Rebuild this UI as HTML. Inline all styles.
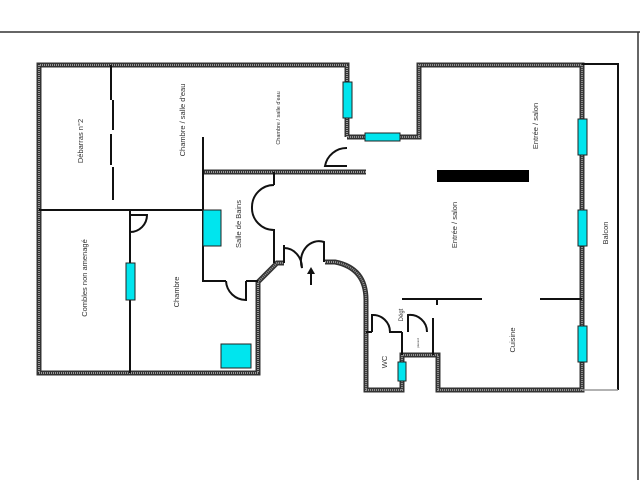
<!DOCTYPE html>
<html><head><meta charset="utf-8"><style>
html,body{margin:0;padding:0;background:#fff;width:640px;height:480px;overflow:hidden}
text{font-family:"Liberation Sans",sans-serif;fill:#333}
</style></head><body>
<svg width="640" height="480" viewBox="0 0 640 480" xmlns="http://www.w3.org/2000/svg">
<line x1="0" y1="32" x2="640" y2="32" stroke="#333" stroke-width="1.5"/>
<line x1="638" y1="32" x2="638" y2="480" stroke="#333" stroke-width="1.5"/>
<g fill="none" stroke-linejoin="miter">
 <g id="walls">
  <path d="M347,137 L347,65 L39,65 L39,373 L258,373 L258,282 L277,263 L284,263"/>
  <path d="M325,262 L335,262 Q366,268 366,300 L366,390 L402,390 L402,355 L438,355 L438,390 L582,390 L582,65 L419,65 L419,137 L347,137"/>
  <path d="M203,172 L366,172"/>
 </g>
</g>
<use href="#walls" stroke="#333" stroke-width="5" fill="none"/>
<use href="#walls" stroke="#999" stroke-width="2" stroke-dasharray="1 1" fill="none"/>
<g stroke="#111" stroke-width="2" fill="none">
 <path d="M111,65V100 M113,100V130 M111,134V165 M113,167V200"/>
 <path d="M39,210H203 M203,137V281H226 M246,281H258"/>
 <path d="M226,281 A20,20 0 0 0 246,300 V281"/>
 <path d="M130,210V373 M130,210V232 M130,232 A17,17 0 0 0 147,215 H130"/>
 <path d="M274,172V185 M274,185 A22,22 0 0 0 252,207 A22,22 0 0 0 274,230 V263"/>
 <path d="M284,263V245 M284,248 A18,20 0 0 1 302,268 A18,20 0 0 1 324,242 V262"/>
 <path d="M347,148 A22,22 0 0 0 325,166 H347"/>
 <path d="M402,299H482 M437,299V305 M540,299H582 M582,64H618V390"/>
 <path d="M366,332H372 M372,332V315 A17,17 0 0 1 390,332 H402 M402,332V355 M408,332V315 A17,17 0 0 1 427,332 M433,318V355"/>
</g>
<line x1="582" y1="390" x2="618" y2="390" stroke="#999" stroke-width="1.5"/>
<path d="M311,285V272" stroke="#111" stroke-width="2"/>
<path d="M307,274 L311,267 L315,274Z" fill="#111"/>
<rect x="437" y="170" width="92" height="12" fill="#000"/>
<g fill="#00e5ee" stroke="#222" stroke-width="1">
 <rect x="343" y="82" width="9" height="36"/>
 <rect x="365" y="133" width="35" height="8"/>
 <rect x="578" y="119" width="9" height="36"/>
 <rect x="578" y="210" width="9" height="36"/>
 <rect x="578" y="326" width="9" height="36"/>
 <rect x="398" y="362" width="8" height="19"/>
 <rect x="126" y="263" width="9" height="37"/>
 <rect x="203" y="210" width="18" height="36"/>
 <rect x="221" y="344" width="30" height="24"/>
</g>
<g font-size="7.5">
 <text transform="translate(83,141) rotate(-90)" text-anchor="middle">Débarras n°2</text>
 <text transform="translate(185,120) rotate(-90)" text-anchor="middle">Chambre / salle d'eau</text>
 <text transform="translate(280,118) rotate(-90)" text-anchor="middle" font-size="5.5">Chambre / salle d'eau</text>
 <text transform="translate(241,224) rotate(-90)" text-anchor="middle">Salle de Bains</text>
 <text transform="translate(87,278) rotate(-90)" text-anchor="middle">Combles non amenagé</text>
 <text transform="translate(179,292) rotate(-90)" text-anchor="middle">Chambre</text>
 <text transform="translate(457,225) rotate(-90)" text-anchor="middle">Entrée / salon</text>
 <text transform="translate(538,126) rotate(-90)" text-anchor="middle">Entrée / salon</text>
 <text transform="translate(608,233) rotate(-90)" text-anchor="middle">Balcon</text>
 <text transform="translate(515,340) rotate(-90)" text-anchor="middle">Cuisine</text>
 <text transform="translate(387,362) rotate(-90)" text-anchor="middle">WC</text>
 <text transform="translate(403,315) rotate(-90)" text-anchor="middle" font-size="6">Dégt</text>
 <text transform="translate(419,343) rotate(-90)" text-anchor="middle" font-size="3">placard</text>
</g>
</svg>
</body></html>
